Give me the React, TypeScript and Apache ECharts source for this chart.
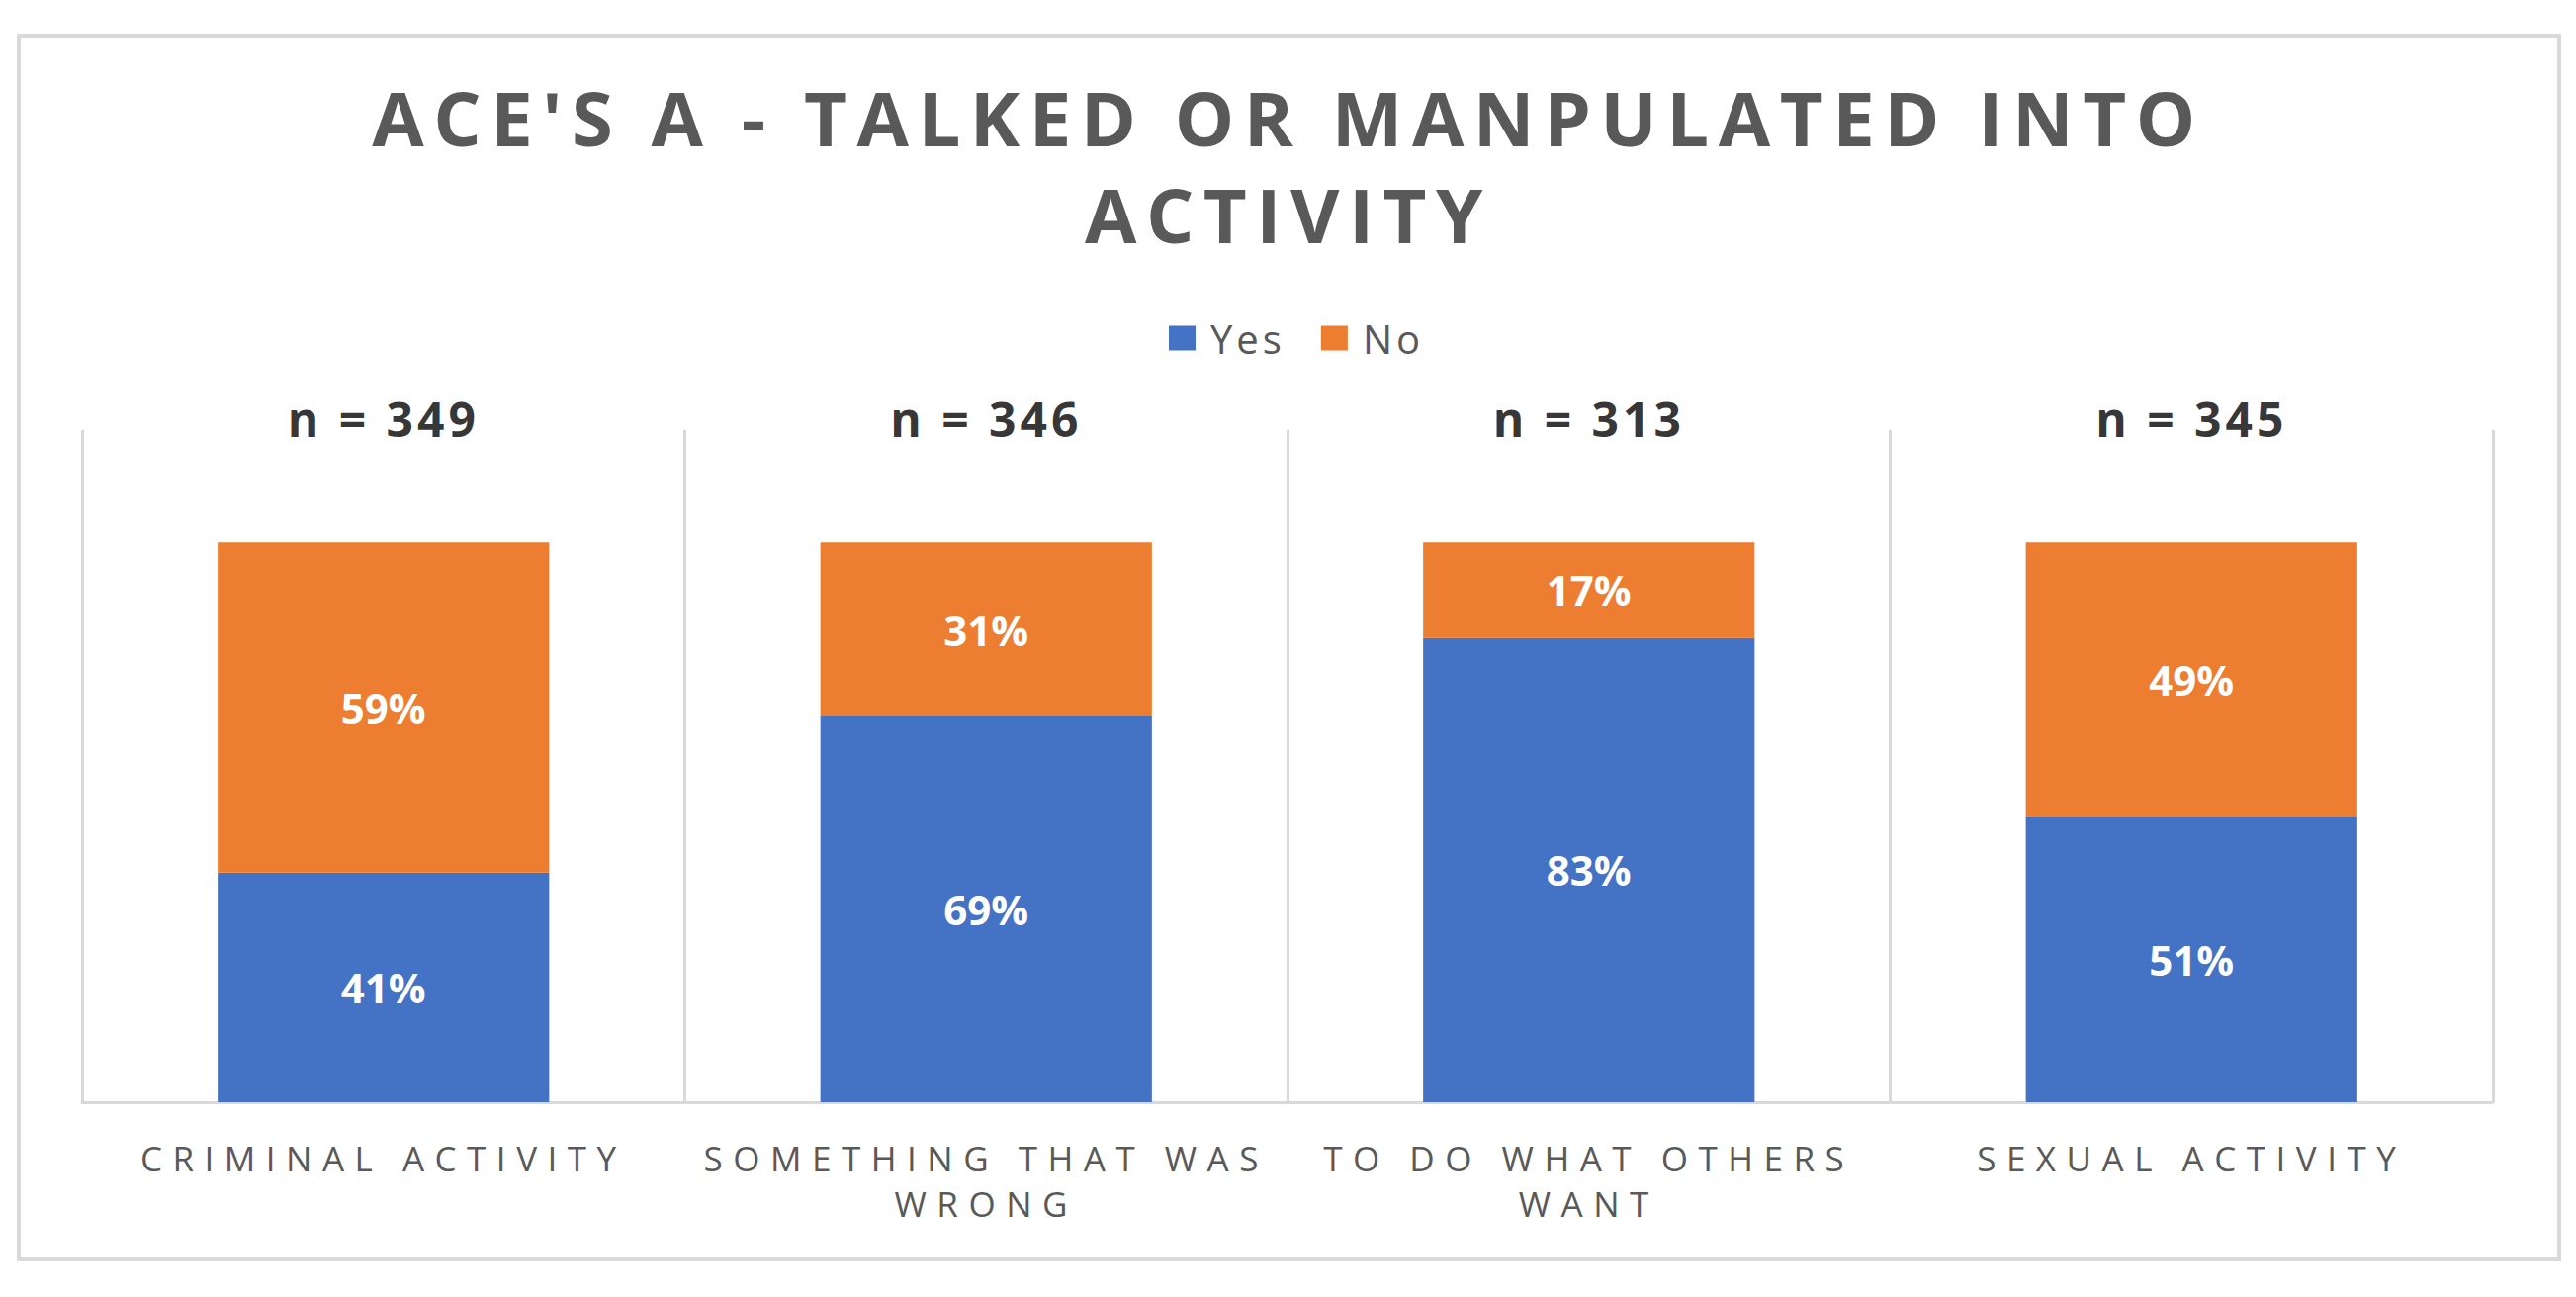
import React, { useEffect, useRef } from "react";
import * as echarts from "echarts";

const titleText = "ACE'S A - TALKED OR MANPULATED INTO\nACTIVITY";
const categories = [
  "CRIMINAL ACTIVITY",
  "SOMETHING THAT WAS\nWRONG",
  "TO DO WHAT OTHERS\nWANT",
  "SEXUAL ACTIVITY",
];
const yesValues = [41, 69, 83, 51];
const noValues = [59, 31, 17, 49];
const sampleSizes = [349, 346, 313, 345];
const seriesNames = ["Yes", "No"];

const FONT = "'Open Sans', 'Noto Sans', sans-serif";

export default function App() {
  const ref = useRef<HTMLDivElement>(null);

  useEffect(() => {
    if (!ref.current) return;
    const chart = echarts.init(ref.current, null, { renderer: "svg" });
    const option: any = {
      animation: false,
      backgroundColor: "#ffffff",
      title: {
        text: titleText,
        left: 1303,
        top: 69,
        padding: 0,
        textAlign: "center",
        textStyle: {
          fontFamily: FONT,
          fontSize: 76,
          fontWeight: "bold",
          color: "#595959",
          lineHeight: 98,
        },
      },
      legend: {
        data: seriesNames,
        top: 322,
        left: 1182,
        icon: "rect",
        itemWidth: 27,
        itemHeight: 25,
        itemGap: 48,
        padding: 0,
        textStyle: {
          fontFamily: FONT,
          fontSize: 40,
          color: "#595959",
          padding: [0, 0, 0, 10],
        },
      },
      graphic: [
        {
          type: "rect",
          z: -1,
          shape: { x: 19, y: 36, width: 2569, height: 1238 },
          style: { fill: "none", stroke: "#d9d9d9", lineWidth: 4 },
        },
      ],
      grid: { left: 83, right: 84, top: 435, bottom: 197, containLabel: false },
      xAxis: {
        type: "category",
        data: categories,
        boundaryGap: true,
        axisLine: { show: true, lineStyle: { color: "#d9d9d9", width: 3 } },
        axisTick: { show: false },
        splitLine: { show: true, lineStyle: { color: "#d9d9d9", width: 3 } },
        axisLabel: {
          interval: 0,
          fontFamily: FONT,
          fontSize: 35,
          lineHeight: 46,
          margin: 33,
          color: "#595959",
        },
      },
      yAxis: {
        type: "value",
        min: 0,
        max: 120,
        show: false,
        splitLine: { show: false },
      },
      series: [
        {
          name: seriesNames[0],
          type: "bar",
          stack: "total",
          data: yesValues,
          barWidth: "55%",
          itemStyle: { color: "#4472C4" },
          label: {
            show: true,
            position: "inside",
            formatter: "{c}%",
            color: "#ffffff",
            fontFamily: FONT,
            fontWeight: "bold",
            fontSize: 42,
          },
        },
        {
          name: seriesNames[1],
          type: "bar",
          stack: "total",
          data: noValues,
          barWidth: "55%",
          itemStyle: { color: "#ED7D31" },
          label: {
            show: true,
            position: "inside",
            formatter: "{c}%",
            color: "#ffffff",
            fontFamily: FONT,
            fontWeight: "bold",
            fontSize: 42,
          },
        },
        {
          name: "n",
          type: "scatter",
          data: sampleSizes.map((n, i) => ({ value: [i, 120], n })),
          symbolSize: 0,
          clip: false,
          itemStyle: { color: "transparent" },
          silent: true,
          label: {
            show: true,
            position: "inside",
            offset: [0, -12],
            formatter: (p: any) => "n = " + p.data.n,
            color: "#000000",
            fontFamily: FONT,
            fontWeight: "bold",
            fontSize: 48,
          },
        },
      ],
    };
    chart.setOption(option);

    const spacing: Record<string, number> = {};
    titleText.split("\n").forEach((t) => (spacing[t] = 9.5));
    categories.forEach((c) => c.split("\n").forEach((t) => (spacing[t] = 10.5)));
    seriesNames.forEach((t) => (spacing[t] = 4));
    sampleSizes.forEach((n) => (spacing["n = " + n] = 4));
    const applySpacing = () => {
      if (!ref.current) return;
      ref.current.querySelectorAll("text").forEach((el) => {
        const key = (el.textContent || "").trim();
        if (spacing[key] !== undefined) {
          (el as any).style.letterSpacing = spacing[key] + "px";
        }
      });
    };
    chart.on("finished", applySpacing);
    applySpacing();
    const t1 = setTimeout(applySpacing, 0);
    const t2 = setTimeout(applySpacing, 100);
    return () => {
      clearTimeout(t1);
      clearTimeout(t2);
      chart.dispose();
    };
  }, []);

  return (
    <div
      ref={ref}
      style={{
        position: "fixed",
        left: 0,
        top: 0,
        width: "2605px",
        height: "1312px",
        background: "#ffffff",
      }}
    />
  );
}
